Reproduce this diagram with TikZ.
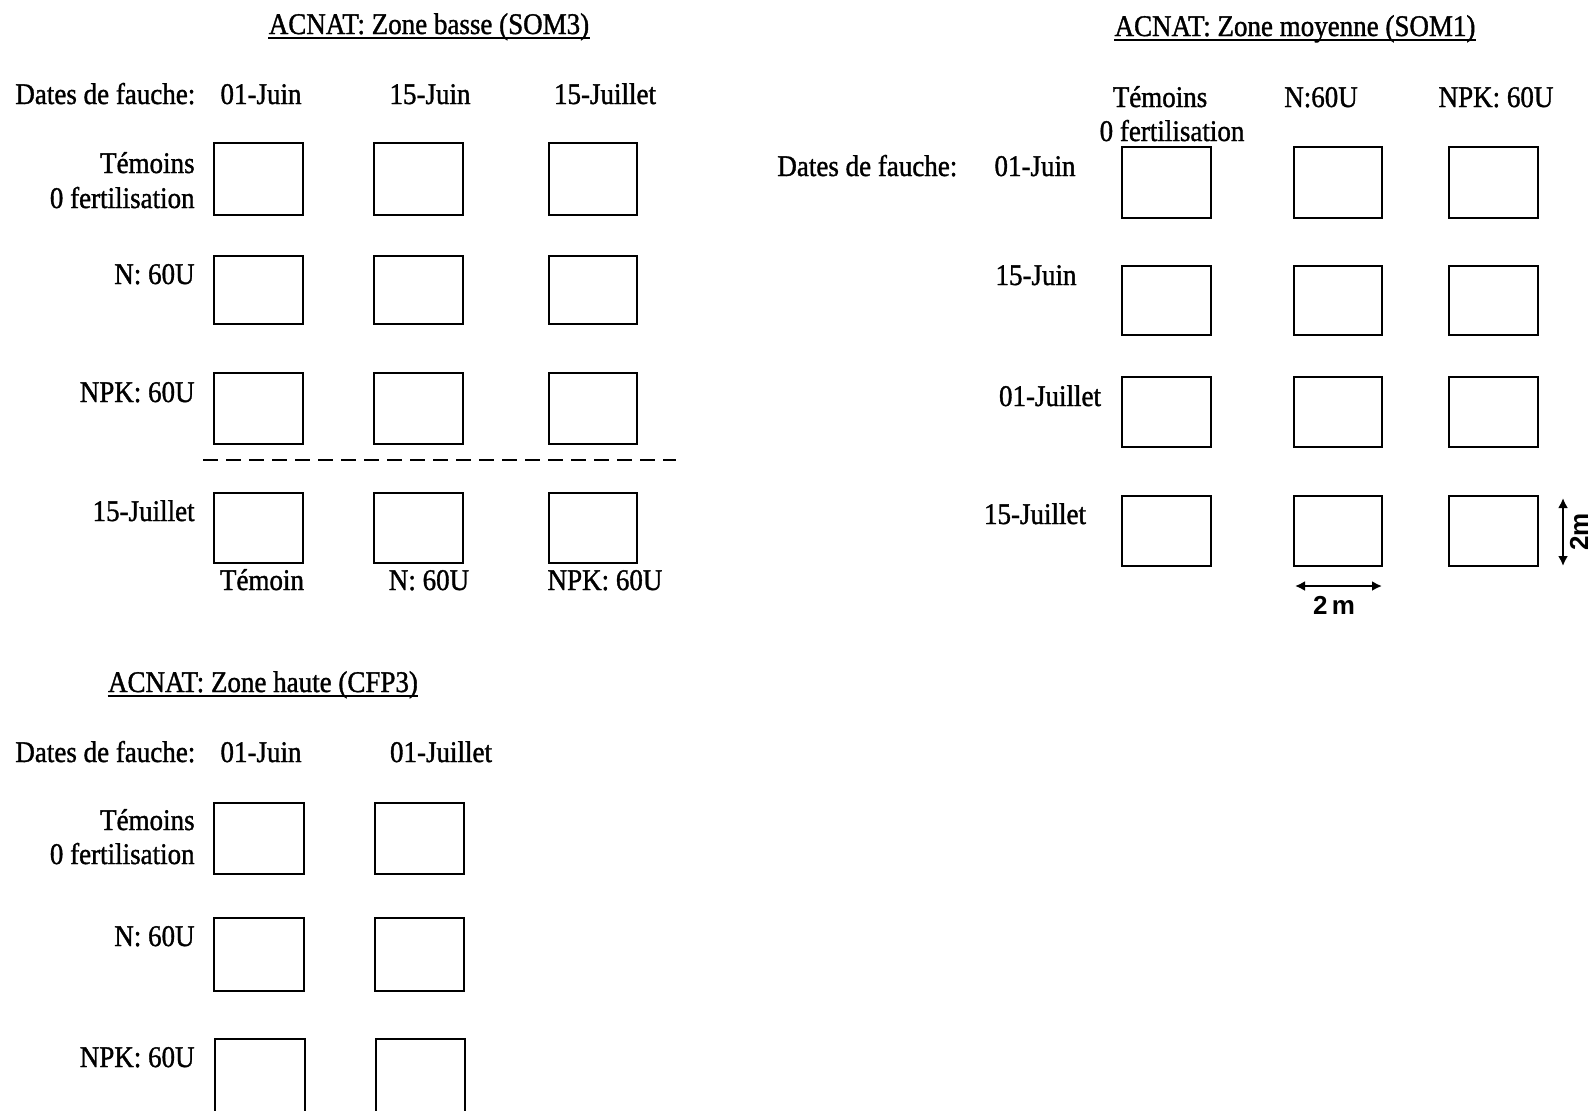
\documentclass[tikz,border=0pt]{standalone}
\usepackage{fontspec}
\setmainfont{Liberation Serif}[FakeStretch=0.9,FakeBold=1.2]
\newfontfamily\dimfont{Liberation Sans}
\usetikzlibrary{fit,arrows.meta,calc}
\begin{document}
\begin{tikzpicture}[x=0.5pt,y=-0.5pt,
  plotbox/.style={draw, line width=1pt, inner sep=0pt},
  lbl/.style={font=\fontsize{15}{18}\selectfont, inner sep=0pt, anchor=base},
  lblr/.style={lbl, anchor=base east},
  lbll/.style={lbl, anchor=base west},
  uline/.style={line width=0.9pt},
  dimline/.style={line width=1.3pt, {Latex[length=5pt,width=5pt]}-{Latex[length=5pt,width=5pt]}},
  dimtxt/.style={font=\dimfont\bfseries\fontsize{13}{15}\selectfont, inner sep=0pt}
]
\path[use as bounding box, clip] (0,0) rectangle (1593,1110);
\fill[white] (0,0) rectangle (1593,1110);

% ---------- Zone basse (SOM3) ----------
\node[lbl] (tA) at (429,34) {ACNAT: Zone basse (SOM3)};
\draw[uline] ($(tA.base west)+(0,4)$) -- ($(tA.base east)+(0,4)$);
\node[lbll] (dA) at (15,104) {Dates de fauche:};
\node[lbl] (cA1) at (261,104) {01-Juin};
\node[lbl] (cA2) at (430,104) {15-Juin};
\node[lbl] (cA3) at (605,104) {15-Juillet};
\node[lblr] (rA1a) at (195,173) {Témoins};
\node[lblr] (rA1b) at (195,208) {0 fertilisation};
\node[lblr] (rA2) at (195,284) {N: 60U};
\node[lblr] (rA3) at (195,402) {NPK: 60U};
\node[lblr] (rA4) at (195,521) {15-Juillet};
\node[plotbox, fit={(214,143) (303,215)}] (A11) {};
\node[plotbox, fit={(374,143) (463,215)}] (A12) {};
\node[plotbox, fit={(549,143) (637,215)}] (A13) {};
\node[plotbox, fit={(214,256) (303,324)}] (A21) {};
\node[plotbox, fit={(374,256) (463,324)}] (A22) {};
\node[plotbox, fit={(549,256) (637,324)}] (A23) {};
\node[plotbox, fit={(214,373) (303,444)}] (A31) {};
\node[plotbox, fit={(374,373) (463,444)}] (A32) {};
\node[plotbox, fit={(549,373) (637,444)}] (A33) {};
\node[plotbox, fit={(214,493) (303,563)}] (A41) {};
\node[plotbox, fit={(374,493) (463,563)}] (A42) {};
\node[plotbox, fit={(549,493) (637,563)}] (A43) {};
\draw[line width=1.3pt, dash pattern=on 7.5pt off 4pt] (203,460) -- (676,460);
\node[lbl] (bA1) at (262,590) {Témoin};
\node[lbl] (bA2) at (429,590) {N: 60U};
\node[lbl] (bA3) at (605,590) {NPK: 60U};

% ---------- Zone moyenne (SOM1) ----------
\node[lbl] (tB) at (1295,36) {ACNAT: Zone moyenne (SOM1)};
\draw[uline] ($(tB.base west)+(0,4)$) -- ($(tB.base east)+(0,4)$);
\node[lbl] (hB1a) at (1160,107) {Témoins};
\node[lbl] (hB1b) at (1172,141) {0 fertilisation};
\node[lbl] (hB2) at (1321,107) {N:60U};
\node[lbl] (hB3) at (1496,107) {NPK: 60U};
\node[lbll] (dB) at (777,176) {Dates de fauche:};
\node[lbl] (rB1) at (1035,176) {01-Juin};
\node[lbl] (rB2) at (1036,285) {15-Juin};
\node[lbl] (rB3) at (1050,406) {01-Juillet};
\node[lbl] (rB4) at (1035,524) {15-Juillet};
\node[plotbox, fit={(1122,147) (1211,218)}] (B11) {};
\node[plotbox, fit={(1294,147) (1382,218)}] (B12) {};
\node[plotbox, fit={(1449,147) (1538,218)}] (B13) {};
\node[plotbox, fit={(1122,266) (1211,335)}] (B21) {};
\node[plotbox, fit={(1294,266) (1382,335)}] (B22) {};
\node[plotbox, fit={(1449,266) (1538,335)}] (B23) {};
\node[plotbox, fit={(1122,377) (1211,447)}] (B31) {};
\node[plotbox, fit={(1294,377) (1382,447)}] (B32) {};
\node[plotbox, fit={(1449,377) (1538,447)}] (B33) {};
\node[plotbox, fit={(1122,496) (1211,566)}] (B41) {};
\node[plotbox, fit={(1294,496) (1382,566)}] (B42) {};
\node[plotbox, fit={(1449,496) (1538,566)}] (B43) {};
% scale arrows
\coordinate (hL) at (1295,586);
\coordinate (hR) at (1382,586);
\draw[dimline] (hL) -- (hR);
\node[dimtxt] (hT) at (1334,605) {2\,m};
\coordinate (vT) at (1563,498);
\coordinate (vB) at (1563,566);
\draw[dimline] (vT) -- (vB);
\node[dimtxt, rotate=90] (vTx) at (1579,532) {2m};

% ---------- Zone haute (CFP3) ----------
\node[lbl] (tC) at (263,692) {ACNAT: Zone haute (CFP3)};
\draw[uline] ($(tC.base west)+(0,4)$) -- ($(tC.base east)+(0,4)$);
\node[lbll] (dC) at (15,762) {Dates de fauche:};
\node[lbl] (cC1) at (261,762) {01-Juin};
\node[lbl] (cC2) at (441,762) {01-Juillet};
\node[lblr] (rC1a) at (195,830) {Témoins};
\node[lblr] (rC1b) at (195,864) {0 fertilisation};
\node[lblr] (rC2) at (195,946) {N: 60U};
\node[lblr] (rC3) at (195,1067) {NPK: 60U};
\node[plotbox, fit={(214,803) (304,874)}] (C11) {};
\node[plotbox, fit={(375,803) (464,874)}] (C12) {};
\node[plotbox, fit={(214,918) (304,991)}] (C21) {};
\node[plotbox, fit={(375,918) (464,991)}] (C22) {};
\node[plotbox, fit={(215,1039) (305,1140)}] (C31) {};
\node[plotbox, fit={(376,1039) (465,1140)}] (C32) {};
\end{tikzpicture}
\end{document}
